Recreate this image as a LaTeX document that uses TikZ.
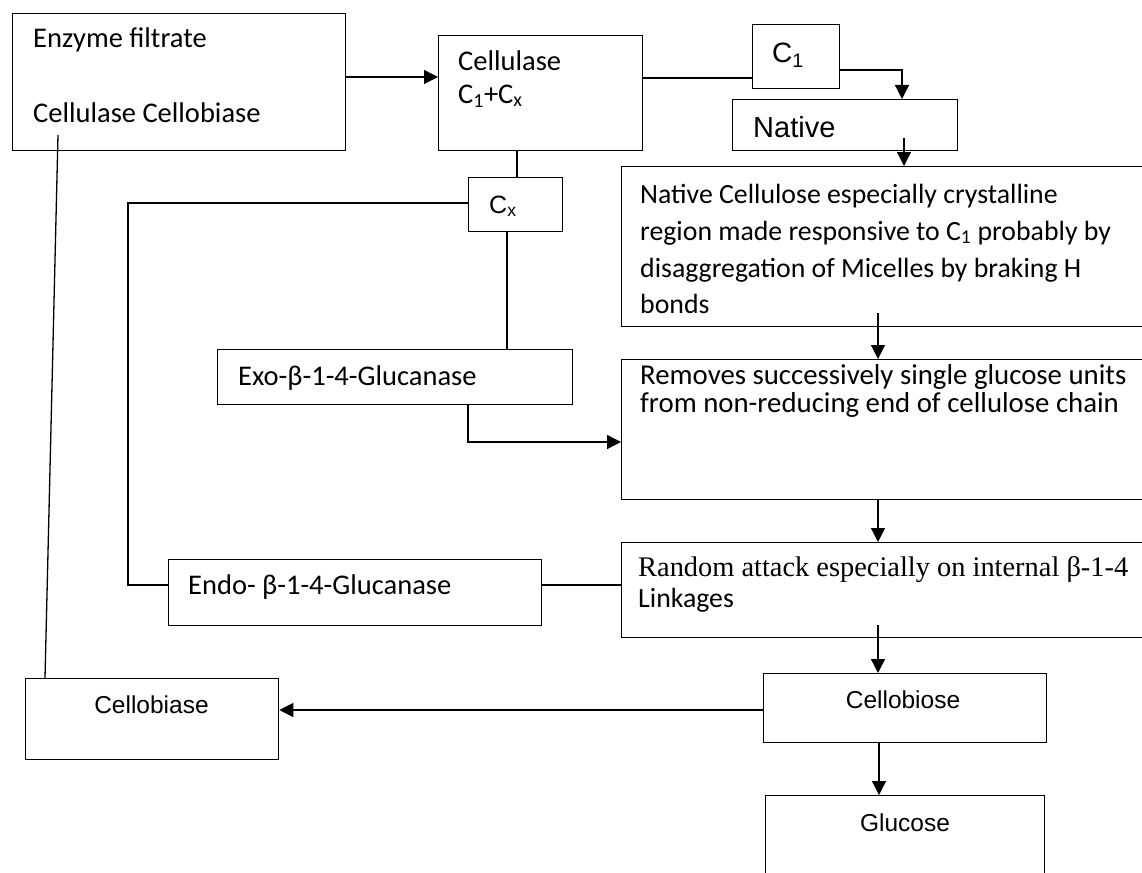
\documentclass[tikz,border=0pt]{standalone}
\usepackage{fontspec}
\setmainfont{Carlito}
\newfontfamily\arialf{Liberation Sans}
\newfontfamily\serff{Liberation Serif}
\usetikzlibrary{arrows.meta,calc}
\begin{document}
\begin{tikzpicture}[x=1pt,y=-1pt,
  bx/.style={draw=black,line width=1.3pt,inner sep=0pt,anchor=north west,fill=white},
  tx/.style={anchor=base west,inner sep=0pt,font=\fontsize{28.5}{34}\selectfont},
  txs/.style={anchor=base west,inner sep=0pt,font=\fontsize{27.8}{34}\selectfont},
  txm/.style={anchor=base west,inner sep=0pt,font=\fontsize{28.8}{34}\selectfont},
  txr/.style={anchor=base west,inner sep=0pt,font=\serff\fontsize{28.4}{34}\selectfont},
  txa/.style={anchor=base west,inner sep=0pt,font=\arialf\fontsize{28}{34}\selectfont},
  txc/.style={anchor=base,inner sep=0pt,font=\arialf\fontsize{24.5}{30}\selectfont},
  ln/.style={line width=1.3pt},
  arr/.style={line width=1.3pt,-{Triangle[length=14pt,width=14pt]}}]
\useasboundingbox (0,0) rectangle (1142,872);
\fill[white] (0,0) rectangle (1142,872);

% boxes
\node[bx,minimum width=333pt,minimum height=137pt] (enz) at (12,13) {};
\node[bx,minimum width=204pt,minimum height=115pt] (cel) at (438,35) {};
\node[bx,minimum width=87pt,minimum height=64pt] (c1) at (752,24) {};
\node[bx,minimum width=225pt,minimum height=51pt] (nat) at (732,99) {};
\node[bx,minimum width=94pt,minimum height=54pt] (cx) at (468,177) {};
\node[bx,minimum width=540pt,minimum height=160pt] (nc) at (621,166) {};
\node[bx,minimum width=355pt,minimum height=55pt] (exo) at (217,349) {};
\node[bx,minimum width=540pt,minimum height=140pt] (rem) at (621,359) {};
\node[bx,minimum width=373pt,minimum height=66pt] (endo) at (168,559) {};
\node[bx,minimum width=540pt,minimum height=95pt] (rnd) at (621,542) {};
\node[bx,minimum width=253pt,minimum height=81pt] (cbase) at (25,678) {};
\node[bx,minimum width=283pt,minimum height=69pt] (cbose) at (763,673) {};
\node[bx,minimum width=279pt,minimum height=90pt] (glu) at (765,795) {};

% texts
\node[tx] (t1) at (33,48) {Enzyme filtrate};
\node[tx] (t2) at (33,122) {Cellulase Cellobiase};
\node[tx] (t3) at (458,71) {Cellulase};
\node[tx] (t4) at (458,103) {C\textsubscript{1}+C\textsubscript{x}};
\node[txa] (t5) at (772,63) {C\textsubscript{1}};
\node[txa,font=\arialf\fontsize{29}{34}\selectfont] (t6) at (753,138) {Native};
\node[txa,font=\arialf\fontsize{25}{30}\selectfont] (t7) at (489,213) {C\textsubscript{x}};
\node[txs] (t8) at (640,203) {Native Cellulose especially crystalline};
\node[txs] (t9) at (640,240) {region made responsive to C\textsubscript{1} probably by};
\node[txs] (t10) at (640,277) {disaggregation of Micelles by braking H};
\node[txs] (t11) at (640,313) {bonds};
\node[tx] (t12) at (238,385) {Exo-β-1-4-Glucanase};
\node[txm] (t13) at (640,384) {Removes successively single glucose units};
\node[txm] (t14) at (640,412) {from non-reducing end of cellulose chain};
\node[tx] (t15) at (188,594) {Endo- β-1-4-Glucanase};
\node[txr] (t16) at (638,576) {Random attack especially on internal β-1-4};
\node[txs] (t17) at (638,607) {Linkages};
\node[txc] (t18) at (151.5,713) {Cellobiase};
\node[txc] (t19) at (903,708) {Cellobiose};
\node[txc] (t20) at (905,831) {Glucose};

% connector end points
\coordinate (pa) at ([shift={(0,64)}]enz.north east);
\coordinate (pb) at ([shift={(0,43)}]cel.north east);
\coordinate (pc) at ([shift={(0,46)}]c1.north east);
\coordinate (pc2) at ([shift={(170,0)}]nat.north west);
\coordinate (pd) at ([shift={(172,39)}]nat.north west);
\coordinate (pe) at ([shift={(79,0)}]cel.south west);
\coordinate (pf) at ([shift={(39,0)}]cx.south west);
\coordinate (pg) at ([shift={(0,26)}]cx.north west);
\coordinate (pg2) at ([shift={(-40,26)}]endo.north west);
\coordinate (pg3) at ([shift={(0,26)}]endo.north west);
\coordinate (ph) at ([shift={(0,26)}]endo.north east);
\coordinate (pi) at ([shift={(251,0)}]exo.south west);
\coordinate (pi2) at ([shift={(0,83)}]rem.north west);
\coordinate (pj) at ([shift={(257,147)}]nc.north west);
\coordinate (pk) at ([shift={(257,0)}]rem.south west);
\coordinate (pl) at ([shift={(257,83)}]rnd.north west);
\coordinate (pm) at ([shift={(0,37)}]cbose.north west);
\coordinate (pn) at ([shift={(116,0)}]cbose.south west);
\coordinate (po) at ([shift={(46,122)}]enz.north west);
\coordinate (po2) at ([shift={(20,0)}]cbase.north west);

% connectors
\draw[arr] (pa) -- (pa -| cel.west);
\draw[ln] (pb) -- (pb -| c1.west);
\draw[arr] (pc) -| (pc2);
\draw[arr] (pd) -- (pd |- nc.north);
\draw[ln] (pe) -- (pe |- cx.north);
\draw[ln] (pf) -- (pf |- exo.north);
\draw[ln] (pg) -| (pg2) -- (pg3);
\draw[ln] (ph) -- (ph -| rnd.west);
\draw[arr] (pi) |- (pi2);
\draw[arr] (pj) -- (pj |- rem.north);
\draw[arr] (pk) -- (pk |- rnd.north);
\draw[arr] (pl) -- (pl |- cbose.north);
\draw[arr] (pm) -- (pm -| cbase.east);
\draw[arr] (pn) -- (pn |- glu.north);
\draw[ln] (po) -- (po2);
\end{tikzpicture}
\end{document}
